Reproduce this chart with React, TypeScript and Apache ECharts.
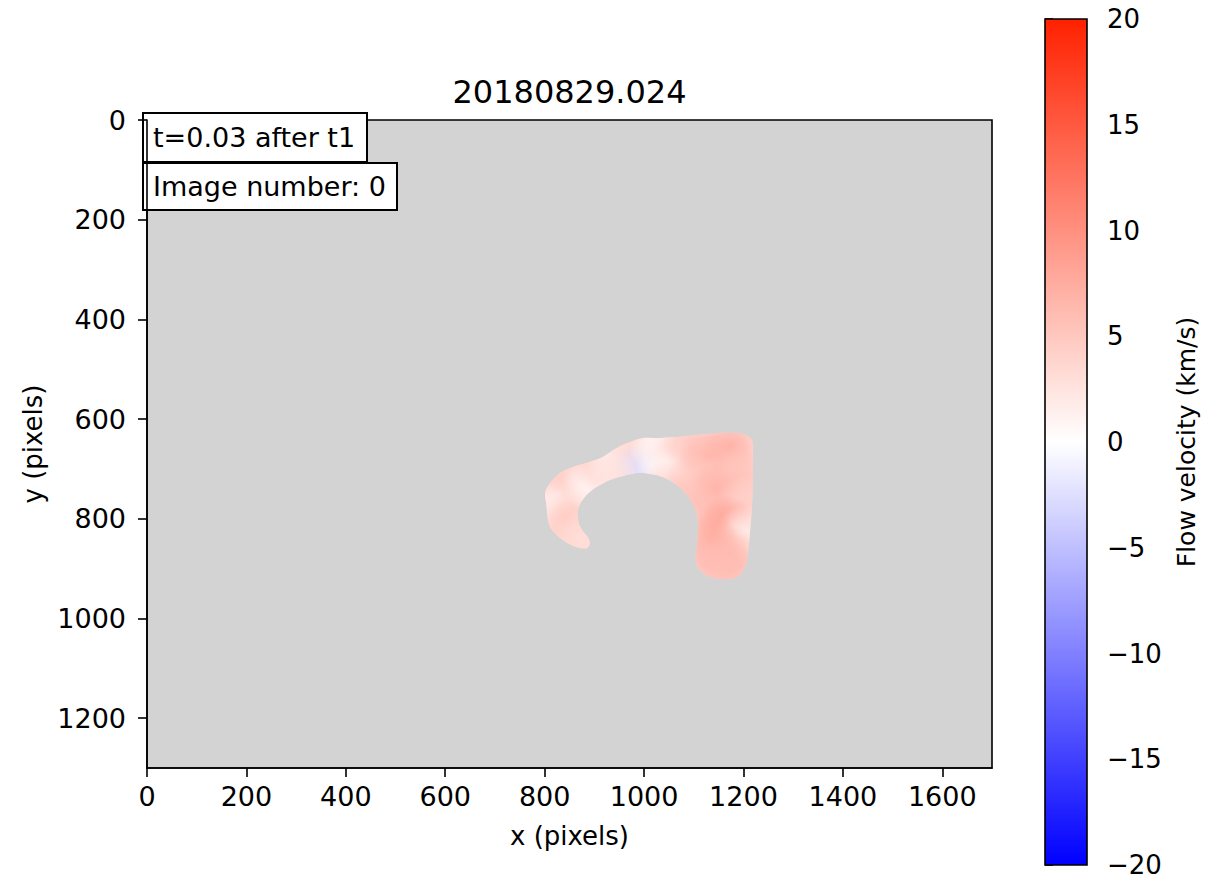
import React, { useEffect, useRef } from 'react';
import * as echarts from 'echarts';

// ---------- data ----------
const chartTitle = '20180829.024';
const annotationLines = ['t=0.03 after t1', 'Image number: 0'];
const xTicks = [0, 200, 400, 600, 800, 1000, 1200, 1400, 1600];
const yTicks = [0, 200, 400, 600, 800, 1000, 1200];
const cbTicks = [-20, -15, -10, -5, 0, 5, 10, 15, 20];
const xRange = [0, 1700];
const yRange = [0, 1300];
const vRange = [-20, 20];

// outline of the measured region (image pixels)
const outlineX = [803, 811, 837, 865, 885, 891, 887, 875, 867, 869, 885, 905, 931, 958, 986, 1012, 1038, 1066, 1086, 1102, 1108, 1108, 1106, 1104, 1112, 1133, 1159, 1187, 1203, 1209, 1213, 1217, 1219, 1219, 1217, 1199, 1173, 1147, 1106, 1066, 1032, 998, 972, 945, 917, 891, 857, 831, 811, 801];
const outlineY = [768, 816, 843, 857, 859, 849, 837, 822, 802, 776, 752, 736, 722, 714, 708, 710, 716, 732, 752, 778, 802, 828, 857, 883, 903, 917, 921, 917, 897, 869, 828, 776, 722, 668, 642, 630, 628, 628, 632, 636, 638, 638, 646, 658, 676, 686, 696, 708, 728, 748];

// flow velocity samples inside the region (km/s)
const sampleX = [824, 817, 844, 871, 858, 891, 905, 938, 972, 990, 1025, 1059, 1039, 1092, 1126, 1173, 1193, 1099, 1146, 1200, 1126, 1166, 1200, 1133, 1173, 1126, 1173, 932, 1052, 1079];
const sampleY = [736, 776, 802, 836, 709, 729, 689, 675, 669, 705, 655, 675, 709, 649, 675, 655, 709, 722, 742, 769, 782, 809, 829, 843, 869, 889, 903, 715, 736, 762];
const sampleV = [4.5, 1, 5, 3, 4, 0.5, 4, 1, 3.5, -2.5, 0.5, 3.5, 0.5, 4.5, 6.5, 7, 5.5, 5, 7, 4.5, 6, 8.5, 1.5, 7.5, 6.5, 6, 6, 2.5, 4, 5.5];
const baseVelocity = 3.5;

// ---------- helpers ----------
const FONT = 'DejaVu Sans';
const bwrRGB = (v: number) => {
  const t = Math.max(0, Math.min(1, (v - vRange[0]) / (vRange[1] - vRange[0])));
  let r: number, g: number, b: number;
  if (t < 0.5) {
    const s = t / 0.5;
    r = s; g = s; b = 1;
  } else {
    const s = (t - 0.5) / 0.5;
    r = 1; g = 1 - s * 0.87; b = 1 - s;
  }
  return [Math.round(r * 255), Math.round(g * 255), Math.round(b * 255)];
};
const bwr = (v: number, a = 1) => {
  const [r, g, b] = bwrRGB(v);
  return `rgba(${r},${g},${b},${a})`;
};
const fmtMinus = (v: number) => (v < 0 ? '\u2212' + Math.abs(v) : String(v));

export default function App() {
  const ref = useRef<HTMLDivElement>(null);
  useEffect(() => {
    if (!ref.current) return;
    const chart = echarts.init(ref.current, null, { renderer: 'svg' });

    const outlinePoints = (api: any) => outlineX.map((x, i) => api.coord([x, outlineY[i]]));
    const samples = sampleX.map((x, i) => [x, sampleY[i], sampleV[i]]);
    const cbStops = [...cbTicks].reverse().map((v) => ({
      offset: (vRange[1] - v) / (vRange[1] - vRange[0]),
      color: bwr(v),
    }));

    const tickLabel = { fontSize: 27, color: '#000', fontFamily: FONT };

    chart.setOption({
      animation: false,
      backgroundColor: '#fff',
      textStyle: { fontFamily: FONT },
      grid: [
        {
          left: 147, top: 120, width: 845, height: 648,
          show: true, backgroundColor: '#d3d3d3', borderColor: '#000', borderWidth: 1.6,
        },
        { left: 1045, top: 19, width: 42, height: 847, show: false },
      ],
      xAxis: [
        {
          gridIndex: 0, type: 'value', min: xRange[0], max: xRange[1], position: 'bottom',
          axisLine: { show: true, onZero: false, lineStyle: { color: '#000', width: 1.6 } },
          axisTick: { show: true, length: 9, customValues: xTicks, lineStyle: { color: '#000', width: 1.6 } },
          axisLabel: { ...tickLabel, margin: 15, customValues: xTicks, formatter: (v: number) => String(v) },
          splitLine: { show: false },
          name: 'x (pixels)', nameLocation: 'middle', nameGap: 55,
          nameTextStyle: { fontSize: 26, color: '#000', fontFamily: FONT },
        },
        { gridIndex: 1, type: 'value', min: 0, max: 1, show: false },
      ],
      yAxis: [
        {
          gridIndex: 0, type: 'value', min: yRange[0], max: yRange[1], inverse: true, position: 'left',
          axisLine: { show: true, onZero: false, lineStyle: { color: '#000', width: 1.6 } },
          axisTick: { show: true, length: 9, customValues: yTicks, lineStyle: { color: '#000', width: 1.6 } },
          axisLabel: { ...tickLabel, margin: 21, customValues: yTicks, formatter: (v: number) => String(v) },
          splitLine: { show: false },
          name: 'y (pixels)', nameLocation: 'middle', nameGap: 86,
          nameTextStyle: { fontSize: 26, color: '#000', fontFamily: FONT },
        },
        {
          gridIndex: 1, type: 'value', min: vRange[0], max: vRange[1], interval: 5, position: 'right',
          axisLine: { show: false },
          axisTick: { show: true, length: 8, lineStyle: { color: '#000', width: 1.6 } },
          axisLabel: { ...tickLabel, fontSize: 26, lineHeight: 18, margin: 20, formatter: (v: number) => fmtMinus(v) },
          splitLine: { show: false },
          name: 'Flow velocity (km/s)', nameLocation: 'middle', nameGap: 87, nameRotate: 90,
          nameTextStyle: { fontSize: 25, color: '#000', fontFamily: FONT },
        },
      ],
      series: [
        {
          type: 'custom', name: 'region', xAxisIndex: 0, yAxisIndex: 0,
          data: [[outlineX[0], outlineY[0]]],
          renderItem: (params: any, api: any) => ({
            type: 'polygon',
            shape: { points: outlinePoints(api), smooth: 0.35 },
            style: { fill: bwr(baseVelocity), stroke: 'none' },
          }),
          z: 2,
        },
        {
          type: 'custom', name: 'velocity', xAxisIndex: 0, yAxisIndex: 0,
          data: samples,
          encode: { x: 0, y: 1 },
          renderItem: (params: any, api: any) => {
            const c = api.coord([api.value(0), api.value(1)]);
            const v = api.value(2);
            const r = 28;
            return {
              type: 'circle',
              shape: { cx: c[0], cy: c[1], r },
              style: {
                fill: new echarts.graphic.RadialGradient(0.5, 0.5, 0.5, [
                  { offset: 0, color: bwr(v, 0.95) },
                  { offset: 0.55, color: bwr(v, 0.55) },
                  { offset: 1, color: bwr(v, 0) },
                ]),
              },
              clipPath: { type: 'polygon', shape: { points: outlinePoints(api), smooth: 0.35 } },
            };
          },
          z: 3,
        },
        {
          type: 'custom', name: 'colorbar', xAxisIndex: 1, yAxisIndex: 1,
          data: [[0, 0]],
          renderItem: (params: any, api: any) => {
            const p1 = api.coord([0, vRange[1]]);
            const p2 = api.coord([1, vRange[0]]);
            return {
              type: 'rect',
              shape: { x: p1[0], y: p1[1], width: p2[0] - p1[0], height: p2[1] - p1[1] },
              style: {
                fill: new echarts.graphic.LinearGradient(0, 0, 0, 1, cbStops),
                stroke: '#000', lineWidth: 1.6,
              },
            };
          },
        },
      ],
      graphic: [
        {
          type: 'text', x: 569.5, y: 91.5, z: 100,
          style: { text: chartTitle, fontSize: 32, fontFamily: FONT, fill: '#000', align: 'center', verticalAlign: 'middle' },
        },
        {
          type: 'group', z: 100,
          children: [
            { type: 'rect', shape: { x: 143, y: 113, width: 224, height: 49 }, style: { fill: '#fff', stroke: '#000', lineWidth: 2 } },
            { type: 'text', x: 153, y: 137.5, style: { text: annotationLines[0], fontSize: 27, fontFamily: FONT, fill: '#000', verticalAlign: 'middle' } },
            { type: 'rect', shape: { x: 143, y: 163, width: 254, height: 47 }, style: { fill: '#fff', stroke: '#000', lineWidth: 2 } },
            { type: 'text', x: 153, y: 186.5, style: { text: annotationLines[1], fontSize: 27, fontFamily: FONT, fill: '#000', verticalAlign: 'middle' } },
          ],
        },
      ],
    });
    return () => chart.dispose();
  }, []);
  return (
    <div
      ref={ref}
      style={{ position: 'fixed', left: 0, top: 0, width: 1219, height: 878, background: '#fff' }}
    />
  );
}
